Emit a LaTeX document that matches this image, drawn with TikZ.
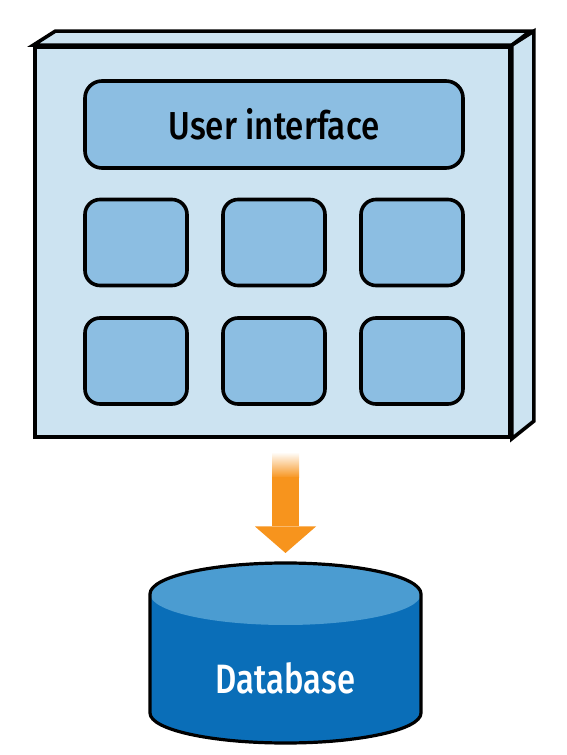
\documentclass[tikz,border=0pt]{standalone}
\usepackage{fontspec}
\setmainfont{Fira Sans Medium}[FakeStretch=0.8]
\newfontfamily\uifont{Fira Sans Medium}[FakeStretch=0.85]
\definecolor{facecol}{HTML}{CCE3F1}
\definecolor{boxcol}{HTML}{8CBEE2}
\definecolor{dbtop}{HTML}{4B9CD1}
\definecolor{dbbody}{HTML}{0A6EB8}
\definecolor{arrowor}{HTML}{F7941D}
\tikzset{
  outl/.style={draw=black, line width=3.6pt, line join=miter},
  face/.style={outl, fill=facecol},
  ubox/.style={outl, fill=boxcol, rounded corners=17pt, inner sep=0pt},
  smallbox/.style={ubox, minimum width=102pt, minimum height=86pt, rounded corners=15pt},
  uitext/.style={font=\uifont\fontsize{39}{44}\selectfont, text=black},
  dbtext/.style={font=\fontsize{41}{46}\selectfont, text=white},
}
\begin{document}
\begin{tikzpicture}[x=1pt,y=1pt]
\useasboundingbox (0,0) rectangle (567,755);
% 3D panel
\node[face, minimum width=475pt, minimum height=390pt, inner sep=0pt] (front) at (272.5,513) {};
\draw[face] (front.north west) -- ++(22,14) -- ++(475,0) -- (front.north east) -- cycle;
\draw[face] (front.north east) -- ++(22,14) -- ++(0,-390) -- (front.south east) -- cycle;
% UI
\node[ubox, minimum width=378pt, minimum height=87pt, uitext] (ui) at (274,630.5) {User interface};
\node[smallbox] (b11) at (136,512.5) {};
\node[smallbox] (b12) at (274,512.5) {};
\node[smallbox] (b13) at (412,512.5) {};
\node[smallbox] (b21) at (136,394) {};
\node[smallbox] (b22) at (274,394) {};
\node[smallbox] (b23) at (412,394) {};
% arrow
\coordinate (astart) at (285.5,303);
\coordinate (atip) at (285.5,202);
\shade[top color=white, bottom color=arrowor] ([xshift=-13.5pt]astart) rectangle ([xshift=13.5pt,yshift=-26pt]astart);
\fill[arrowor] ([xshift=-13.5pt,yshift=-25.5pt]astart) rectangle ([xshift=13.5pt,yshift=26.5pt]atip);
\fill[arrowor] ([xshift=-30.5pt,yshift=26.5pt]atip) -- ([xshift=30.5pt,yshift=26.5pt]atip) -- (atip) -- cycle;
% database
\coordinate (dtop) at (285.5,161);
\coordinate (dbot) at (285.5,42);
\fill[dbbody] ([xshift=-135.5pt]dtop) -- ([xshift=-135.5pt]dbot) arc[start angle=180, end angle=360, x radius=135.5pt, y radius=30pt] -- ([xshift=135.5pt]dtop) -- cycle;
\fill[dbtop] (dtop) ellipse[x radius=135.5pt, y radius=31pt];
\draw[draw=black, line width=3.2pt, line join=round] ([xshift=-135.5pt]dbot) -- ([xshift=-135.5pt]dtop) arc[start angle=180, end angle=0, x radius=135.5pt, y radius=31pt] -- ([xshift=135.5pt]dbot) arc[start angle=0, end angle=-180, x radius=135.5pt, y radius=30pt] -- cycle;
\node[dbtext] (db) at (285.5,77) {Database};
\end{tikzpicture}
\end{document}
